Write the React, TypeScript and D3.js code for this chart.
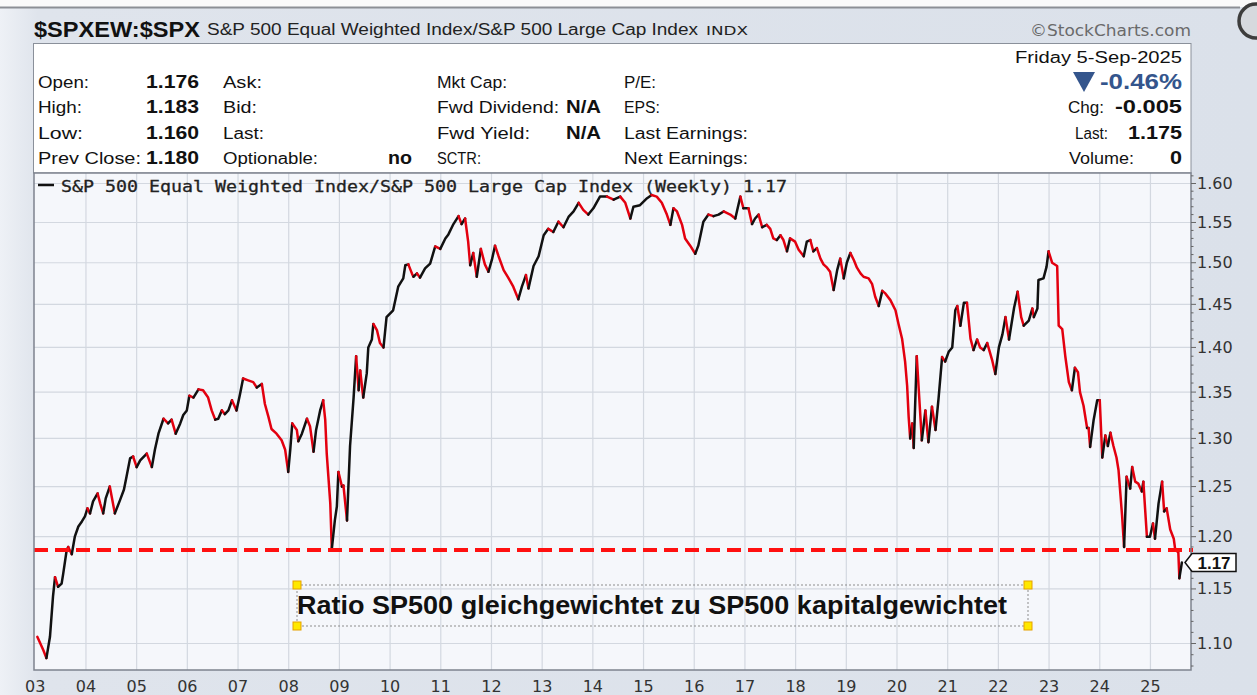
import React from "react";
import * as d3 from "d3";

// ---- data (decimal year, ratio) ----
const weeklyRatio: [number, number][] = [
  [2003.04,1.106],[2003.16,1.094],[2003.22,1.087],[2003.29,1.106],[2003.35,1.143],[2003.39,1.161],[2003.45,1.152],[2003.52,1.155],[2003.55,1.164],[2003.62,1.187],[2003.65,1.190],[2003.72,1.183],[2003.78,1.200],[2003.85,1.210],[2003.92,1.215],[2003.98,1.220],
  [2004.03,1.228],[2004.08,1.223],[2004.14,1.235],[2004.23,1.243],[2004.28,1.233],[2004.34,1.223],[2004.39,1.238],[2004.47,1.250],[2004.57,1.223],[2004.67,1.236],[2004.75,1.247],[2004.80,1.260],[2004.87,1.279],[2004.93,1.281],
  [2005.00,1.270],[2005.07,1.277],[2005.20,1.284],[2005.30,1.270],[2005.36,1.288],[2005.43,1.305],[2005.53,1.321],[2005.62,1.316],[2005.69,1.320],[2005.77,1.305],[2005.86,1.316],[2005.92,1.325],[2005.99,1.330],
  [2006.04,1.346],[2006.12,1.344],[2006.22,1.353],[2006.31,1.352],[2006.41,1.344],[2006.48,1.330],[2006.55,1.320],[2006.61,1.321],[2006.68,1.330],[2006.74,1.326],[2006.81,1.330],[2006.88,1.341],[2006.97,1.330],
  [2007.04,1.348],[2007.10,1.365],[2007.20,1.363],[2007.30,1.361],[2007.37,1.355],[2007.47,1.359],[2007.53,1.337],[2007.60,1.323],[2007.66,1.310],[2007.76,1.305],[2007.86,1.298],[2007.93,1.288],[2007.99,1.265],
  [2008.03,1.288],[2008.07,1.316],[2008.16,1.309],[2008.19,1.297],[2008.26,1.305],[2008.36,1.321],[2008.42,1.313],[2008.49,1.286],[2008.54,1.309],[2008.62,1.330],[2008.68,1.341],[2008.72,1.320],[2008.75,1.284],[2008.82,1.233],[2008.85,1.188],[2008.91,1.216],[2008.95,1.230],[2008.98,1.265],
  [2009.05,1.250],[2009.08,1.251],[2009.15,1.216],[2009.21,1.292],[2009.28,1.344],[2009.33,1.390],[2009.38,1.352],[2009.41,1.374],[2009.47,1.344],[2009.54,1.371],[2009.57,1.400],[2009.64,1.409],[2009.67,1.427],[2009.74,1.420],[2009.80,1.405],[2009.87,1.400],[2009.93,1.435],
  [2010.06,1.443],[2010.16,1.471],[2010.26,1.481],[2010.30,1.497],[2010.36,1.498],[2010.43,1.487],[2010.46,1.483],[2010.53,1.487],[2010.59,1.482],[2010.69,1.493],[2010.79,1.499],[2010.89,1.520],[2010.99,1.517],
  [2011.09,1.530],[2011.15,1.535],[2011.25,1.548],[2011.35,1.558],[2011.41,1.548],[2011.48,1.555],[2011.54,1.526],[2011.58,1.497],[2011.64,1.512],[2011.71,1.483],[2011.79,1.517],[2011.87,1.498],[2011.94,1.489],
  [2012.01,1.504],[2012.07,1.521],[2012.14,1.508],[2012.24,1.491],[2012.33,1.482],[2012.43,1.471],[2012.53,1.456],[2012.60,1.471],[2012.68,1.485],[2012.73,1.469],[2012.83,1.496],[2012.93,1.508],
  [2013.03,1.534],[2013.12,1.542],[2013.22,1.538],[2013.32,1.551],[2013.42,1.544],[2013.52,1.557],[2013.62,1.564],[2013.72,1.575],[2013.81,1.566],[2013.91,1.560],
  [2014.01,1.568],[2014.14,1.583],[2014.28,1.583],[2014.41,1.579],[2014.54,1.583],[2014.64,1.575],[2014.74,1.555],[2014.80,1.570],[2014.93,1.572],
  [2015.07,1.581],[2015.16,1.585],[2015.26,1.583],[2015.36,1.575],[2015.46,1.560],[2015.53,1.547],[2015.59,1.568],[2015.66,1.564],[2015.76,1.547],[2015.82,1.530],[2015.92,1.521],
  [2016.02,1.511],[2016.08,1.521],[2016.18,1.551],[2016.28,1.560],[2016.38,1.558],[2016.48,1.560],[2016.58,1.564],[2016.71,1.560],[2016.81,1.555],[2016.87,1.572],[2016.91,1.583],[2016.97,1.568],
  [2017.07,1.568],[2017.14,1.548],[2017.20,1.555],[2017.27,1.560],[2017.34,1.544],[2017.43,1.547],[2017.50,1.542],[2017.56,1.530],[2017.63,1.528],[2017.70,1.534],[2017.76,1.528],[2017.83,1.514],[2017.89,1.530],[2017.99,1.526],
  [2018.06,1.516],[2018.16,1.508],[2018.22,1.526],[2018.29,1.528],[2018.35,1.514],[2018.42,1.518],[2018.49,1.505],[2018.55,1.498],[2018.62,1.494],[2018.68,1.489],[2018.75,1.467],[2018.82,1.491],[2018.88,1.505],[2018.95,1.481],
  [2019.01,1.500],[2019.08,1.512],[2019.15,1.503],[2019.21,1.494],[2019.28,1.487],[2019.34,1.483],[2019.44,1.481],[2019.51,1.474],[2019.57,1.459],[2019.64,1.448],[2019.71,1.466],[2019.77,1.463],[2019.87,1.455],[2019.97,1.443],
  [2020.03,1.427],[2020.10,1.410],[2020.16,1.384],[2020.20,1.357],[2020.23,1.323],[2020.26,1.300],[2020.30,1.316],[2020.33,1.290],[2020.39,1.390],[2020.43,1.352],[2020.49,1.298],[2020.56,1.330],[2020.62,1.296],[2020.69,1.334],[2020.76,1.309],[2020.82,1.343],[2020.89,1.389],[2020.95,1.384],
  [2021.02,1.395],[2021.09,1.400],[2021.15,1.443],[2021.19,1.448],[2021.25,1.425],[2021.32,1.452],[2021.38,1.452],[2021.45,1.410],[2021.51,1.397],[2021.58,1.409],[2021.64,1.400],[2021.71,1.397],[2021.78,1.405],[2021.88,1.385],[2021.94,1.370],
  [2022.01,1.400],[2022.08,1.415],[2022.14,1.435],[2022.21,1.409],[2022.31,1.446],[2022.38,1.465],[2022.45,1.435],[2022.50,1.425],[2022.60,1.431],[2022.67,1.445],[2022.70,1.435],[2022.77,1.445],[2022.79,1.479],[2022.89,1.481],[2022.95,1.495],[2022.99,1.514],
  [2023.06,1.500],[2023.16,1.496],[2023.19,1.425],[2023.26,1.421],[2023.32,1.390],[2023.39,1.361],[2023.45,1.352],[2023.51,1.377],[2023.57,1.372],[2023.61,1.350],[2023.68,1.335],[2023.75,1.311],[2023.78,1.311],[2023.81,1.291],[2023.88,1.320],[2023.95,1.341],
  [2024.00,1.341],[2024.05,1.280],[2024.11,1.303],[2024.16,1.292],[2024.21,1.306],[2024.27,1.292],[2024.33,1.280],[2024.37,1.267],[2024.44,1.221],[2024.48,1.190],[2024.53,1.260],[2024.60,1.248],[2024.64,1.270],[2024.70,1.255],[2024.76,1.253],[2024.83,1.245],[2024.86,1.255],[2024.93,1.200],[2024.99,1.200],
  [2025.05,1.213],[2025.09,1.198],[2025.16,1.233],[2025.23,1.255],[2025.27,1.225],[2025.32,1.228],[2025.39,1.207],[2025.46,1.198],[2025.49,1.187],[2025.55,1.185],[2025.57,1.160],[2025.62,1.175],
];

const yTickValues = [1.10, 1.15, 1.20, 1.25, 1.30, 1.35, 1.40, 1.45, 1.50, 1.55, 1.60];
const yearTicks = d3.range(2003, 2026);
const supportLevel = 1.187;
const lastValueLabel = "1.17";

const infoRows = [
  { label: "Open:", value: "1.176", c2: "Ask:", c3: "Mkt Cap:", c3v: "", c4: "P/E:" },
  { label: "High:", value: "1.183", c2: "Bid:", c3: "Fwd Dividend:", c3v: "N/A", c4: "EPS:" },
  { label: "Low:", value: "1.160", c2: "Last:", c3: "Fwd Yield:", c3v: "N/A", c4: "Last Earnings:" },
  { label: "Prev Close:", value: "1.180", c2: "Optionable:", c3: "SCTR:", c3v: "", c4: "Next Earnings:" },
];

const W = 1257, H = 695;
const P = { l: 34, r: 1191, t: 173, b: 670 };
const SANS = "'Liberation Sans', Arial, sans-serif";
const DJ = "'DejaVu Sans', sans-serif";

function T(props: any) {
  const { w, children, ...rest } = props;
  return (
    <text {...rest} textLength={w} lengthAdjust="spacingAndGlyphs">
      {children}
    </text>
  );
}

export default function App() {
  const x = d3.scaleLinear().domain([2002.975, 2025.8]).range([P.l, P.r]);
  const y = d3.scaleLog().domain([1.6, 1.1]).range([183.5, 643.5]);

  // colored runs: black when rising, red when falling
  const runs: { color: string; pts: [number, number][] }[] = [];
  for (let i = 1; i < weeklyRatio.length; i++) {
    const up = weeklyRatio[i][1] >= weeklyRatio[i - 1][1];
    const color = up ? "#111" : "#e3000f";
    const a: [number, number] = [x(weeklyRatio[i - 1][0]), y(weeklyRatio[i - 1][1])];
    const b: [number, number] = [x(weeklyRatio[i][0]), y(weeklyRatio[i][1])];
    const last = runs[runs.length - 1];
    if (last && last.color === color) last.pts.push(b);
    else runs.push({ color, pts: [a, b] });
  }
  const lineGen = d3.line<[number, number]>();

  const minorTicks = d3.range(108, 162).map((v) => v / 100).filter((v) => Math.round(v * 100) % 5 !== 0);
  const lastVal = weeklyRatio[weeklyRatio.length - 1][1];
  const tagY = y(lastVal);

  const rowY = [88, 113, 139, 164];
  const lblW = [51, 44, 45, 103];
  const c2W = [39, 34, 41, 95];
  const c3W = [70, 122, 93, 44];
  const c4W = [32, 36, 124, 124];

  return (
    <svg width={W} height={H} style={{ position: "absolute", left: 0, top: 0 }} xmlns="http://www.w3.org/2000/svg">
      <defs>
        <linearGradient id="bg" x1="0" x2="1" y1="0" y2="0">
          <stop offset="0" stopColor="#eef1f6" />
          <stop offset="0.03" stopColor="#dfe4ec" />
          <stop offset="1" stopColor="#dbe1ea" />
        </linearGradient>
        <clipPath id="plotClip">
          <rect x={P.l} y={P.t} width={P.r - P.l} height={P.b - P.t} />
        </clipPath>
      </defs>
      <rect x={0} y={0} width={W} height={H} fill="url(#bg)" />
      <rect x={0} y={0} width={W} height={7} fill="#fafafa" />
      <line x1={0} x2={1240} y1={7.5} y2={7.5} stroke="#8c8f95" strokeWidth={2} />
      <circle cx={1256} cy={21} r={17} fill="#d6d9de" stroke="#3d3d3d" strokeWidth={3.5} />

      {/* header */}
      <T x={34} y={37} w={166} fontFamily={SANS} fontWeight="bold" fontSize={22} fill="#111">$SPXEW:$SPX</T>
      <T x={207} y={35} w={491} fontFamily={SANS} fontSize={16} fill="#222">S&amp;P 500 Equal Weighted Index/S&amp;P 500 Large Cap Index</T>
      <T x={706} y={35} w={42} fontFamily={DJ} fontSize={13} fill="#222">INDX</T>
      <T x={1191} y={36} w={161} textAnchor="end" fontFamily={DJ} fontSize={15} fill="#6a6a6a">©StockCharts.com</T>

      {/* info panel */}
      <rect x={33.5} y={43.5} width={P.r - 33.5} height={P.t - 43.5} fill="#fff" stroke="#8a909a" />
      <g fontFamily={SANS} fontSize={16} fill="#111">
        {infoRows.map((r, i) => (
          <g key={i}>
            <T x={38} y={rowY[i]} w={lblW[i]}>{r.label}</T>
            <T x={199} y={rowY[i]} w={53} textAnchor="end" fontWeight="bold" fontSize={18}>{r.value}</T>
            <T x={223} y={rowY[i]} w={c2W[i]}>{r.c2}</T>
            <T x={437} y={rowY[i]} w={c3W[i]}>{r.c3}</T>
            {r.c3v ? <T x={601} y={rowY[i]} w={35} textAnchor="end" fontWeight="bold" fontSize={18}>{r.c3v}</T> : null}
            <T x={624} y={rowY[i]} w={c4W[i]}>{r.c4}</T>
          </g>
        ))}
        <T x={412} y={rowY[3]} w={24} textAnchor="end" fontWeight="bold" fontSize={18}>no</T>
        <T x={1182} y={63} w={167} textAnchor="end">Friday  5-Sep-2025</T>
        <path d="M1073,72 L1095,72 L1084,92 Z" fill="#34558c" />
        <T x={1182} y={89} w={82} textAnchor="end" fontSize={22} fontWeight="bold" fill="#34558c">-0.46%</T>
        <T x={1068} y={rowY[1]} w={36}>Chg:</T>
        <T x={1182} y={rowY[1]} w={67} textAnchor="end" fontWeight="bold" fontSize={18}>-0.005</T>
        <T x={1075} y={rowY[2]} w={33}>Last:</T>
        <T x={1182} y={rowY[2]} w={54} textAnchor="end" fontWeight="bold" fontSize={18}>1.175</T>
        <T x={1069} y={rowY[3]} w={65}>Volume:</T>
        <T x={1182} y={rowY[3]} w={12} textAnchor="end" fontWeight="bold" fontSize={18}>0</T>
      </g>

      {/* plot area */}
      <rect x={P.l} y={P.t} width={P.r - P.l} height={P.b - P.t} fill="#f5f7fb" />
      <g stroke="#d3d8e0" strokeWidth={1.2}>
        {yTickValues.map((v) => (
          <line key={v} x1={P.l} x2={P.r} y1={y(v)} y2={y(v)} />
        ))}
        {yearTicks.filter((yr) => yr > 2003).map((yr) => (
          <line key={yr} x1={x(yr)} x2={x(yr)} y1={P.t} y2={P.b} />
        ))}
      </g>

      {/* legend */}
      <line x1={38} x2={54} y1={185} y2={185} stroke="#111" strokeWidth={2.5} />
      <T x={61} y={192} w={726} fontFamily="'DejaVu Sans Mono', monospace" fontSize={16} fill="#222" stroke="#222" strokeWidth={0.3}>
        S&amp;P 500 Equal Weighted Index/S&amp;P 500 Large Cap Index (Weekly) 1.17
      </T>

      <g clipPath="url(#plotClip)">
        {runs.map((r, i) => (
          <path key={i} d={lineGen(r.pts) || ""} fill="none" stroke={r.color} strokeWidth={2.5} strokeLinejoin="round" strokeLinecap="round" />
        ))}
      </g>

      {/* support line */}
      <line x1={P.l} x2={P.r + 2} y1={y(supportLevel)} y2={y(supportLevel)} stroke="#ff1010" strokeWidth={4} strokeDasharray="14 7" />

      {/* annotation box */}
      <rect x={297} y={585} width={731} height={41} fill="none" stroke="#8d8d8d" strokeDasharray="2 2" />
      {[[297, 585], [1028, 585], [297, 626], [1028, 626]].map(([cx, cy], i) => (
        <rect key={i} x={cx - 4} y={cy - 4} width={8} height={8} fill="#ffe800" stroke="#e6a100" strokeWidth={1} />
      ))}
      <T x={297} y={614} w={710} fontFamily={SANS} fontWeight="bold" fontSize={25} fill="#111">
        Ratio SP500 gleichgewichtet zu SP500 kapitalgewichtet
      </T>

      {/* frame */}
      <rect x={P.l} y={P.t} width={P.r - P.l} height={P.b - P.t} fill="none" stroke="#7d838e" strokeWidth={1.5} />

      {/* right axis */}
      <g stroke="#666" strokeWidth={1}>
        {yTickValues.map((v) => (
          <line key={v} x1={P.r} x2={P.r + 5} y1={y(v)} y2={y(v)} />
        ))}
        {minorTicks.map((v) => (
          <line key={v} x1={P.r} x2={P.r + 2.5} y1={y(v)} y2={y(v)} />
        ))}
      </g>
      <g fontFamily={DJ} fontSize={16} fill="#333">
        {yTickValues.map((v) => (
          <text key={v} x={1197} y={y(v) + 5.5}>{v.toFixed(2)}</text>
        ))}
      </g>
      {/* bottom axis */}
      <g fontFamily={DJ} fontSize={16} fill="#333" textAnchor="middle">
        {yearTicks.map((yr) => (
          <text key={yr} x={x(yr)} y={692}>{String(yr % 100).padStart(2, "0")}</text>
        ))}
      </g>

      {/* last value tag */}
      <path d={`M${P.r - 6},${tagY} L${P.r + 1},${tagY - 9} L${1236},${tagY - 9} L${1236},${tagY + 9} L${P.r + 1},${tagY + 9} Z`} fill="#fff" stroke="#111" strokeWidth={1.5} />
      <text x={1214} y={tagY + 6} textAnchor="middle" fontFamily={SANS} fontWeight="bold" fontSize={17} fill="#111">{lastValueLabel}</text>
    </svg>
  );
}
